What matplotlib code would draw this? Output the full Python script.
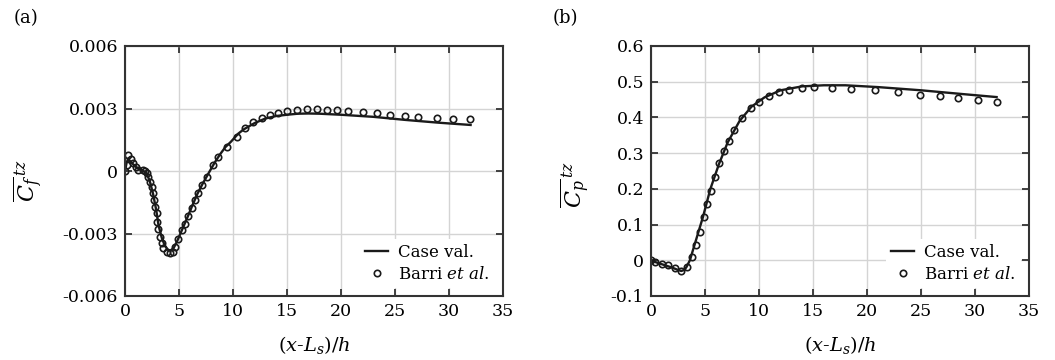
import matplotlib
matplotlib.use("Agg")
import matplotlib.pyplot as plt

plt.rcParams['font.family'] = ['DejaVu Serif']
plt.rcParams['mathtext.fontset'] = 'dejavuserif'
plt.rcParams['axes.unicode_minus'] = False

# ---- data ----
# (a) skin friction
cf_case_x = [0, 0.15, 0.3, 0.5, 0.8, 1.0, 1.3, 1.6, 2.0, 2.3, 2.6, 2.9, 3.1, 3.4, 3.7, 4.0,
             4.2, 4.5, 4.8, 5.3, 5.8, 6.2, 6.7, 7.2, 7.8, 8.3, 8.8, 9.3, 9.8, 10.5, 11.0,
             12.0, 13.0, 14.0, 15.0, 16.0, 17.0, 18.0, 20.0, 23.0, 26.0, 29.0, 32.0]
cf_case = [0.0, 0.0004, 0.0006, 0.00045, 0.0003, 0.0002, 0.00008, 0.00004, -0.0001, -0.0005,
           -0.0011, -0.0019, -0.0026, -0.0032, -0.0036, -0.0038, -0.00382, -0.0037, -0.0034,
           -0.0028, -0.0022, -0.0017, -0.0011, -0.0006, -0.00005, 0.0004, 0.0008, 0.00115,
           0.0014, 0.0018, 0.0020, 0.0023, 0.00252, 0.00264, 0.0027, 0.00275, 0.00276,
           0.00275, 0.0027, 0.0026, 0.00245, 0.00232, 0.00221]

cf_barri_x = [0, 0.15, 0.31, 0.52, 0.77, 1.02, 1.23, 1.64, 1.85, 2.0, 2.16, 2.31, 2.47, 2.56,
              2.69, 2.78, 2.93, 2.99, 3.09, 3.24, 3.40, 3.55, 3.86, 4.17, 4.41, 4.63, 4.94,
              5.25, 5.56, 5.86, 6.17, 6.48, 6.79, 7.10, 7.56, 8.18, 8.64, 9.41, 10.34, 11.11,
              11.88, 12.65, 13.43, 14.2, 14.97, 15.9, 16.82, 17.75, 18.67, 19.6, 20.68,
              22.07, 23.3, 24.54, 25.93, 27.16, 28.86, 30.4, 31.94]
cf_barri = [0.0, 0.00029, 0.00077, 0.00056, 0.00037, 0.00021, 0.00005, 0.00005, 0.00002,
            -0.00011, -0.00027, -0.00051, -0.00075, -0.00107, -0.00139, -0.00171, -0.00203,
            -0.00243, -0.0028, -0.00315, -0.00347, -0.00371, -0.00387, -0.00395, -0.00387,
            -0.00363, -0.00328, -0.00283, -0.00254, -0.00216, -0.00179, -0.00139, -0.00104,
            -0.00067, -0.00027, 0.00029, 0.00069, 0.00117, 0.00165, 0.00205, 0.00235,
            0.00254, 0.00267, 0.00277, 0.00286, 0.00293, 0.00296, 0.00296, 0.00294, 0.00291,
            0.00286, 0.00282, 0.00277, 0.0027, 0.00266, 0.00261, 0.00254, 0.00251, 0.00248]

# (b) pressure coefficient
cp_case_x = [0, 0.5, 1.0, 1.5, 2.0, 2.5, 2.8, 3.1, 3.3, 3.6, 4.1, 4.8, 5.5, 6.3, 7.1, 8.2,
             9.3, 10.5, 12.0, 14.0, 16.0, 18.0, 21.0, 25.0, 29.0, 32.0]
cp_case = [0.0, -0.006, -0.011, -0.016, -0.021, -0.027, -0.03, -0.027, -0.018, 0.0, 0.05,
           0.12, 0.2, 0.27, 0.33, 0.39, 0.43, 0.456, 0.476, 0.487, 0.49, 0.49, 0.485,
           0.476, 0.465, 0.457]

cp_barri_x = [0, 0.37, 0.99, 1.6, 2.22, 2.74, 3.3, 3.76, 4.13, 4.5, 4.87, 5.21, 5.55, 5.92,
              6.32, 6.75, 7.18, 7.68, 8.39, 9.25, 10.02, 10.89, 11.87, 12.77, 13.94, 15.11,
              16.77, 18.56, 20.72, 22.88, 24.88, 26.73, 28.43, 30.28, 32.0]
cp_barri = [0.002, -0.005, -0.009, -0.014, -0.021, -0.03, -0.019, 0.009, 0.042, 0.079, 0.12,
            0.159, 0.194, 0.234, 0.271, 0.306, 0.335, 0.364, 0.398, 0.425, 0.444, 0.461,
            0.471, 0.478, 0.483, 0.485, 0.483, 0.48, 0.476, 0.47, 0.464, 0.459, 0.454, 0.45,
            0.444]

x_ticks = [0, 5, 10, 15, 20, 25, 30, 35]
cf_ticks = [-0.006, -0.003, 0, 0.003, 0.006]
cf_labels = ['-0.006', '-0.003', '0', '0.003', '0.006']
cp_ticks = [-0.1, 0, 0.1, 0.2, 0.3, 0.4, 0.5, 0.6]
cp_labels = ['-0.1', '0', '0.1', '0.2', '0.3', '0.4', '0.5', '0.6']


def style_ax(ax, yticks, ylabels, ylim):
    ax.set_xlim(0, 35)
    ax.set_ylim(*ylim)
    ax.set_xticks(x_ticks)
    ax.set_xticklabels([str(t) for t in x_ticks])
    ax.set_yticks(yticks)
    ax.set_yticklabels(ylabels)
    ax.grid(True, color='#d4d4d4', lw=1.0)
    ax.set_axisbelow(True)
    ax.tick_params(direction='in', top=True, right=True, length=5, width=1.3,
                   labelsize=12.5, color='#333333', pad=5)
    for s in ax.spines.values():
        s.set_linewidth(1.5)
        s.set_color('#333333')
    ax.set_xlabel(r'($x$-$L_s$)/$h$', fontsize=14)
    ax.xaxis.set_label_coords(0.5, -0.15)
    leg = ax.legend(loc='lower right', fontsize=12, frameon=True, handlelength=1.4,
                    handletextpad=0.6, borderpad=0.3, labelspacing=0.3, borderaxespad=0.5)
    leg.get_frame().set_edgecolor('none')
    leg.get_frame().set_facecolor('white')
    leg.get_frame().set_alpha(1.0)


fig = plt.figure(figsize=(10.55, 3.6), dpi=100)
ax1 = fig.add_axes([125 / 1055, 1 - 296 / 360, 378 / 1055, 250 / 360])
ax2 = fig.add_axes([651 / 1055, 1 - 296 / 360, 378 / 1055, 250 / 360])

ax1.plot(cf_case_x, cf_case, color='#1a1a1a', lw=1.7, label='Case val.')
ax1.plot(cf_barri_x, cf_barri, ls='none', marker='o', ms=4.6, mfc='none', mec='#1a1a1a',
         mew=1.2, label=r'Barri $\mathit{et\ al.}$')
style_ax(ax1, cf_ticks, cf_labels, (-0.006, 0.006))
ax1.set_ylabel(r'$\overline{C_f}^{\,tz}$', fontsize=16)
ax1.yaxis.set_label_coords(-0.212, 0.46)

ax2.plot(cp_case_x, cp_case, color='#1a1a1a', lw=1.7, label='Case val.')
ax2.plot(cp_barri_x, cp_barri, ls='none', marker='o', ms=4.6, mfc='none', mec='#1a1a1a',
         mew=1.2, label=r'Barri $\mathit{et\ al.}$')
style_ax(ax2, cp_ticks, cp_labels, (-0.1, 0.6))
ax2.set_ylabel(r'$\overline{C_p}^{\,tz}$', fontsize=16)
ax2.yaxis.set_label_coords(-0.156, 0.445)

fig.text(14 / 1055, 1 - 18 / 360, '(a)', fontsize=13, ha='left', va='center')
fig.text(553 / 1055, 1 - 18 / 360, '(b)', fontsize=13, ha='left', va='center')

fig.savefig('out.png', dpi=100)
